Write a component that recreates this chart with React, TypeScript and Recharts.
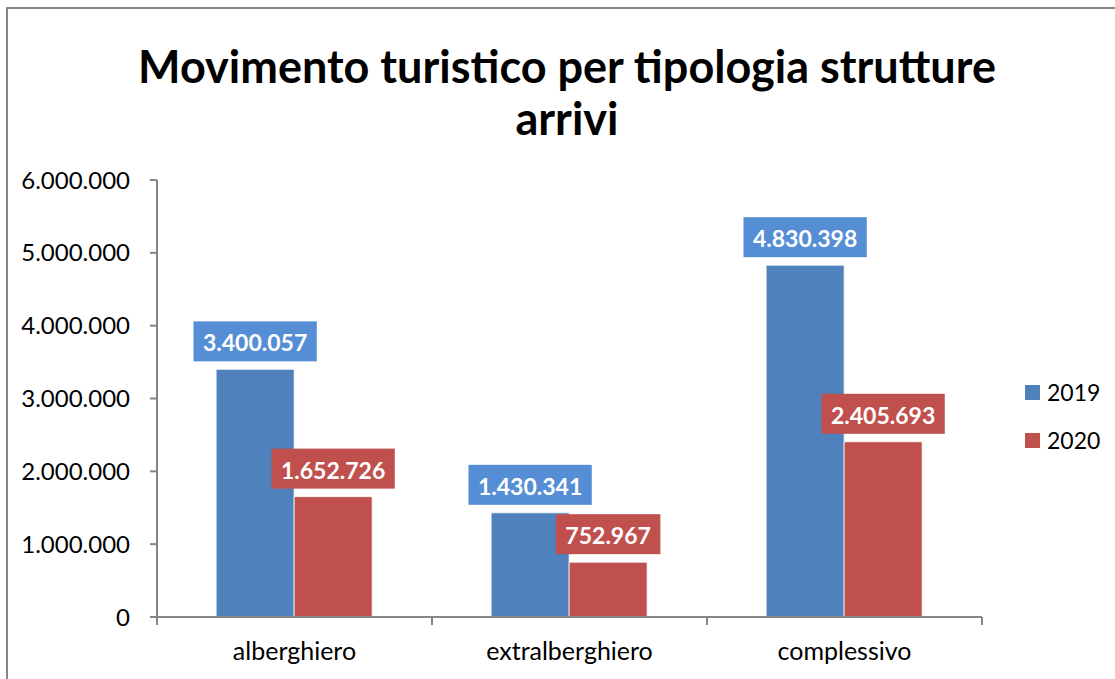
import React from 'react';
import { Bar, BarChart, LabelList, Legend, XAxis, YAxis } from 'recharts';

const categories = ['alberghiero', 'extralberghiero', 'complessivo'];
const arrivi2019 = [3400057, 1430341, 4830398];
const arrivi2020 = [1652726, 752967, 2405693];
const yTicks = [0, 1000000, 2000000, 3000000, 4000000, 5000000, 6000000];

const W = 1115;
const H = 679;
const FONT = 'Lato, Carlito, Calibri, sans-serif';
const AXIS_GRAY = '#868686';

const data = categories.map((name, i) => ({
  name,
  y2019: arrivi2019[i],
  y2020: arrivi2020[i],
}));

const fmt = (v: number) => String(v).replace(/\B(?=(\d{3})+(?!\d))/g, '.');

let ctx: CanvasRenderingContext2D | null = null;
const measure = (text: string, font: string) => {
  if (!ctx) ctx = document.createElement('canvas').getContext('2d');
  if (!ctx) return text.length * 12;
  ctx.font = font;
  return ctx.measureText(text).width;
};

const makeLabel = (bg: string) => (props: any) => {
  const { x, y, width, value } = props;
  const text = fmt(Number(value));
  const tw = measure(text, `bold 23px ${FONT}`);
  const bw = tw + 19;
  const cx = Number(x) + Number(width) / 2;
  const top = Number(y) - 48;
  return (
    <g>
      <rect x={cx - bw / 2} y={top} width={bw} height={40} fill={bg} />
      <text
        x={cx}
        y={top + 30}
        textAnchor="middle"
        fill="#fff"
        fontFamily={FONT}
        fontWeight="bold"
        fontSize={23}
      >
        {text}
      </text>
    </g>
  );
};

const CategoryTick = (props: any) => {
  const { x, y, payload, index, visibleTicksCount, width } = props;
  const half =
    payload && typeof payload.offset === 'number' && payload.offset > 0
      ? payload.offset
      : width / visibleTicksCount / 2;
  return (
    <g>
      <line x1={x - half} x2={x - half} y1={y} y2={y + 8} stroke={AXIS_GRAY} strokeWidth={2} />
      {index === visibleTicksCount - 1 && (
        <line x1={x + half} x2={x + half} y1={y} y2={y + 8} stroke={AXIS_GRAY} strokeWidth={2} />
      )}
      <text x={x} y={y + 43} textAnchor="middle" fill="#000" fontFamily={FONT} fontSize={25}>
        {payload.value}
      </text>
    </g>
  );
};

const LegendBox = ({ payload }: any) => (
  <div style={{ fontFamily: FONT, fontSize: 23, color: '#000' }}>
    {(payload || []).map((p: any) => (
      <div key={p.value} style={{ display: 'flex', alignItems: 'center', height: 48 }}>
        <span style={{ width: 15, height: 15, background: p.color, marginRight: 7 }} />
        <span>{p.value}</span>
      </div>
    ))}
  </div>
);

export default function App() {
  return (
    <div style={{ position: 'absolute', left: 0, top: 0, width: W, height: H, background: '#fff' }}>
      <div
        style={{
          position: 'absolute',
          left: 6,
          top: 7,
          width: W - 6,
          height: H - 7,
          borderLeft: `2px solid ${AXIS_GRAY}`,
          borderTop: `2px solid ${AXIS_GRAY}`,
          boxSizing: 'border-box',
        }}
      />
      <div style={{ position: 'absolute', left: 0, top: 0 }}>
        <BarChart
          width={W}
          height={H}
          data={data}
          margin={{ top: 180, right: 133, left: 0, bottom: 12 }}
          barCategoryGap="21.5%"
          barGap={0}
        >
          <XAxis
            dataKey="name"
            height={50}
            axisLine={{ stroke: AXIS_GRAY, strokeWidth: 2 }}
            tickLine={false}
            tickSize={0}
            tickMargin={0}
            interval={0}
            tick={<CategoryTick />}
          />
          <YAxis
            width={157}
            domain={[0, 6000000]}
            ticks={yTicks}
            interval={0}
            tickFormatter={fmt}
            axisLine={{ stroke: AXIS_GRAY, strokeWidth: 2 }}
            tickLine={{ stroke: AXIS_GRAY, strokeWidth: 2 }}
            tickSize={7}
            tickMargin={20}
            tick={{ fill: '#000', fontSize: 24, fontFamily: FONT }}
          />
          <Legend
            layout="vertical"
            align="center"
            verticalAlign="middle"
            content={<LegendBox />}
            wrapperStyle={{ left: 1025, top: 368, width: 90 }}
          />
          <Bar dataKey="y2019" name="2019" fill="#4F81BD" stroke="#ffffff" strokeWidth={0.75} isAnimationActive={false}>
            <LabelList dataKey="y2019" content={makeLabel('#558ED5')} />
          </Bar>
          <Bar dataKey="y2020" name="2020" fill="#C0504D" stroke="#ffffff" strokeWidth={0.75} isAnimationActive={false}>
            <LabelList dataKey="y2020" content={makeLabel('#C0504D')} />
          </Bar>
        </BarChart>
      </div>
      <svg
        width={W}
        height={150}
        style={{ position: 'absolute', left: 0, top: 0, pointerEvents: 'none' }}
      >
        <text x={567} y={83} textAnchor="middle" fontFamily={FONT} fontWeight="bold" fontSize={45} fill="#000">
          Movimento turistico per tipologia strutture
        </text>
        <text x={567} y={135} textAnchor="middle" fontFamily={FONT} fontWeight="bold" fontSize={45} fill="#000">
          arrivi
        </text>
      </svg>
    </div>
  );
}
